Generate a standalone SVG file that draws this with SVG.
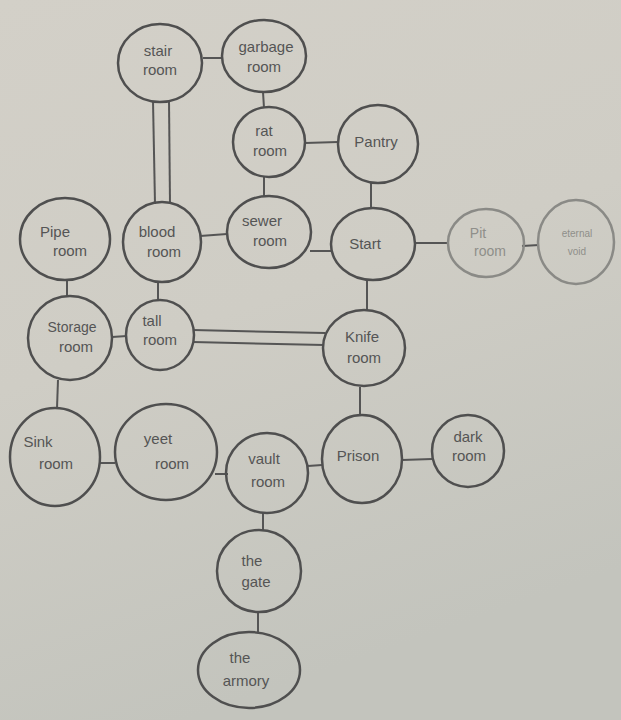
<svg xmlns="http://www.w3.org/2000/svg" width="621" height="720" viewBox="0 0 621 720">
<defs>
<linearGradient id="bg" x1="0" y1="0" x2="0.3" y2="1">
<stop offset="0" stop-color="#d3d0c8"/>
<stop offset="0.5" stop-color="#cfcdc5"/>
<stop offset="1" stop-color="#c3c4bd"/>
</linearGradient>
<style>
.n ellipse{fill:none;stroke:#4f4f4f;stroke-width:2.5}
.n text{font-family:"Liberation Sans","DejaVu Sans",sans-serif;font-size:15px;fill:#555;text-anchor:middle}
.f ellipse{stroke:#8a8a86}
.f text{fill:#8f8f8a;font-size:12px}
#edges line{stroke:#555;stroke-width:2}
</style>
</defs>
<rect width="621" height="720" fill="url(#bg)"/>
<g id="edges">
<line x1="203" y1="58" x2="222" y2="58"/>
<line x1="153" y1="101" x2="155" y2="204"/>
<line x1="169" y1="101" x2="170" y2="204"/>
<line x1="263" y1="92" x2="264" y2="108"/>
<line x1="305" y1="143" x2="338" y2="142"/>
<line x1="264" y1="177" x2="264" y2="197"/>
<line x1="371" y1="183" x2="371" y2="208"/>
<line x1="200" y1="236" x2="227" y2="234"/>
<line x1="310" y1="251" x2="332" y2="251"/>
<line x1="415" y1="243" x2="448" y2="243"/>
<line x1="522" y1="246" x2="539" y2="245"/>
<line x1="367" y1="280" x2="367" y2="310"/>
<line x1="67" y1="280" x2="67" y2="297"/>
<line x1="158" y1="282" x2="158" y2="301"/>
<line x1="112" y1="337" x2="127" y2="336"/>
<line x1="193" y1="330" x2="325" y2="333"/>
<line x1="193" y1="342" x2="324" y2="345"/>
<line x1="58" y1="380" x2="57" y2="408"/>
<line x1="360" y1="387" x2="360" y2="415"/>
<line x1="100" y1="463" x2="115" y2="463"/>
<line x1="215" y1="474" x2="228" y2="474"/>
<line x1="308" y1="466" x2="322" y2="465"/>
<line x1="402" y1="460" x2="432" y2="459"/>
<line x1="263" y1="513" x2="263" y2="530"/>
<line x1="258" y1="612" x2="258" y2="632"/>
</g>
<g id="stair" class="n"><ellipse cx="160" cy="63" rx="42" ry="39"/><text x="158" y="56">stair</text><text x="160" y="75">room</text></g>
<g id="garbage" class="n"><ellipse cx="264" cy="56" rx="42" ry="36"/><text x="266" y="52" font-size="13">garbage</text><text x="264" y="72">room</text></g>
<g id="rat" class="n"><ellipse cx="269" cy="142" rx="36" ry="35"/><text x="264" y="136">rat</text><text x="270" y="156">room</text></g>
<g id="pantry" class="n"><ellipse cx="378" cy="144" rx="40" ry="39"/><text x="376" y="147">Pantry</text></g>
<g id="start" class="n"><ellipse cx="373" cy="244" rx="42" ry="36"/><text x="365" y="249">Start</text></g>
<g id="pit" class="n f"><ellipse cx="486" cy="243" rx="38" ry="34"/><text x="478" y="238" style="font-size:14px">Pit</text><text x="490" y="256" style="font-size:14px">room</text></g>
<g id="void" class="n f"><ellipse cx="576" cy="242" rx="38" ry="42"/><text x="577" y="237" style="font-size:10px">eternal</text><text x="577" y="255" style="font-size:10px">void</text></g>
<g id="pipe" class="n"><ellipse cx="65" cy="239" rx="45" ry="41"/><text x="55" y="237">Pipe</text><text x="70" y="256">room</text></g>
<g id="blood" class="n"><ellipse cx="162" cy="242" rx="39" ry="40"/><text x="157" y="237">blood</text><text x="164" y="257">room</text></g>
<g id="sewer" class="n"><ellipse cx="269" cy="232" rx="42" ry="36"/><text x="262" y="226">sewer</text><text x="270" y="246">room</text></g>
<g id="knife" class="n"><ellipse cx="364" cy="348" rx="41" ry="38"/><text x="362" y="342">Knife</text><text x="364" y="363">room</text></g>
<g id="storage" class="n"><ellipse cx="70" cy="338" rx="42" ry="42"/><text x="72" y="332" style="font-size:14px">Storage</text><text x="76" y="352">room</text></g>
<g id="tall" class="n"><ellipse cx="160" cy="335" rx="34" ry="35"/><text x="152" y="326">tall</text><text x="160" y="345">room</text></g>
<g id="sink" class="n"><ellipse cx="55" cy="457" rx="45" ry="49"/><text x="38" y="447">Sink</text><text x="56" y="469">room</text></g>
<g id="yeet" class="n"><ellipse cx="166" cy="452" rx="51" ry="48"/><text x="158" y="444">yeet</text><text x="172" y="469">room</text></g>
<g id="vault" class="n"><ellipse cx="267" cy="473" rx="41" ry="40"/><text x="264" y="464">vault</text><text x="268" y="487">room</text></g>
<g id="prison" class="n"><ellipse cx="362" cy="459" rx="40" ry="44"/><text x="358" y="461">Prison</text></g>
<g id="dark" class="n"><ellipse cx="468" cy="451" rx="36" ry="36"/><text x="468" y="442" fill="#666">dark</text><text x="469" y="461">room</text></g>
<g id="gate" class="n"><ellipse cx="259" cy="571" rx="42" ry="41"/><text x="252" y="566">the</text><text x="256" y="587">gate</text></g>
<g id="armory" class="n"><ellipse cx="249" cy="670" rx="51" ry="38"/><text x="240" y="663">the</text><text x="246" y="686">armory</text></g>
</svg>
